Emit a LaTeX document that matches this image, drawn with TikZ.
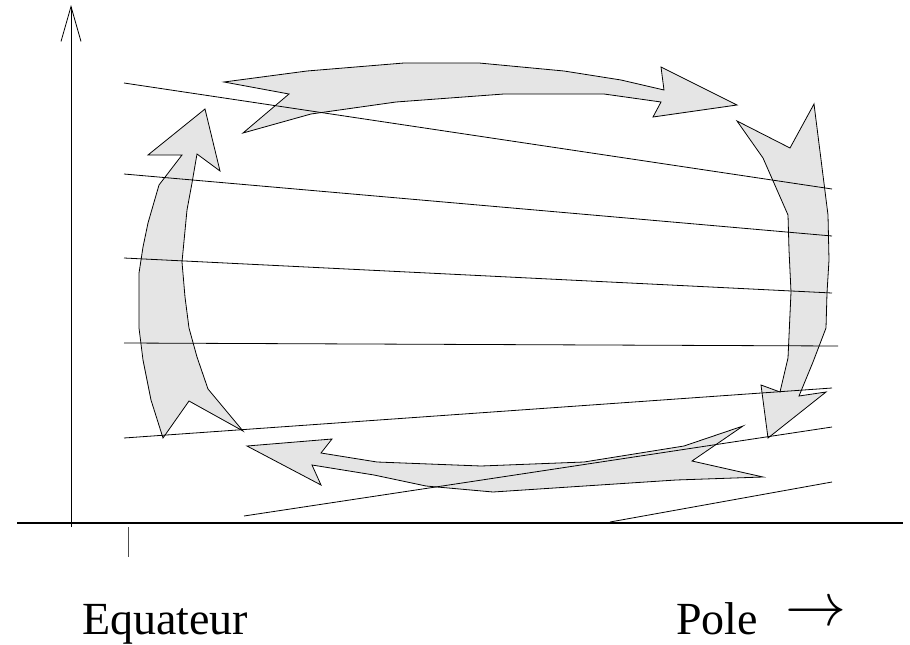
\documentclass[tikz,border=0pt]{standalone}
\usepackage{fontspec}
\usepackage{graphicx}
\setmainfont{Liberation Serif}
\usetikzlibrary{arrows.meta}
\definecolor{flowfill}{gray}{0.9}
\tikzset{
  flow/.style={draw=black, fill=flowfill, line width=0.8pt, line join=miter},
  level/.style={draw=black, line width=0.8pt},
  axis/.style={draw=black, line width=1.1pt},
  label/.style={inner sep=0pt, anchor=base west, font=\fontsize{46}{50}\selectfont}
}
\begin{document}
\begin{tikzpicture}[x=1pt, y=-1pt]
\useasboundingbox (0,0) rectangle (910,645);

% circulation arrows
\path[flow] (205,109) -- (220,171) -- (197,154) -- (192,183) -- (187,210) -- (182,262)
  -- (185,297) -- (189,328) -- (197,357) -- (208,389) -- (243,431) -- (189,401)
  -- (163,438) -- (151,400) -- (143,360) -- (139,328) -- (139,273) -- (143,247)
  -- (148,223) -- (159,185) -- (182,155) -- (148,155) -- cycle;

\path[flow] (224,82) -- (307,71) -- (404,63) -- (479,63) -- (564,71) -- (621,80)
  -- (664,90) -- (661,67) -- (737,105) -- (653,117) -- (661,102) -- (604,94)
  -- (504,94) -- (396,102) -- (311,114) -- (243,133) -- (289,94) -- cycle;

\path[flow] (814,104) -- (828,215) -- (829,260) -- (827,293) -- (826,328) -- (813,362)
  -- (799,396) -- (826,392) -- (768,438) -- (761,385) -- (780,392) -- (788,358)
  -- (791,292) -- (789,250) -- (788,215) -- (763,158) -- (737,121) -- (790,148) -- cycle;

\path[flow] (247,446) -- (332,439) -- (321,453) -- (377,462) -- (481,466) -- (584,462)
  -- (684,446) -- (743,426) -- (692,461) -- (763,477) -- (676,480) -- (493,492)
  -- (426,486) -- (374,475) -- (312,465) -- (321,485) -- cycle;

% sloping lines
\coordinate (l1a) at (124,83);  \coordinate (l1b) at (832,189);
\coordinate (l2a) at (124,174); \coordinate (l2b) at (832,236);
\coordinate (l3a) at (124,258); \coordinate (l3b) at (832,293);
\coordinate (l4a) at (124,343); \coordinate (l4b) at (838,346);
\coordinate (l5a) at (124,438); \coordinate (l5b) at (832,388);
\coordinate (l6a) at (244,516); \coordinate (l6b) at (832,427);
\coordinate (l7a) at (610,522); \coordinate (l7b) at (832,482);
\foreach \i in {1,...,7} { \draw[level] (l\i a) -- (l\i b); }

% axes
\coordinate (ybot) at (71,527);
\coordinate (ytop) at (71,5);
\draw[level, -{Straight Barb[length=35pt, width=20pt, line width=0.8pt]}] (ybot) -- (ytop);
\coordinate (xl) at (17,523);
\coordinate (xr) at (903,523);
\draw[axis] (xl) -- (xr);
\coordinate (tkt) at (128,527);
\coordinate (tkb) at (128,557);
\draw[draw=black!70, line width=0.8pt] (tkt) -- (tkb);

% labels
\node[label] (eq) at (82,634) {Equateur};
\node[label] (pole) at (676,634) {Pole};
\node[inner sep=0pt, anchor=west] (poleArrow) at (785,614) {\resizebox{61pt}{!}{$\rightarrow$}};
\end{tikzpicture}
\end{document}
